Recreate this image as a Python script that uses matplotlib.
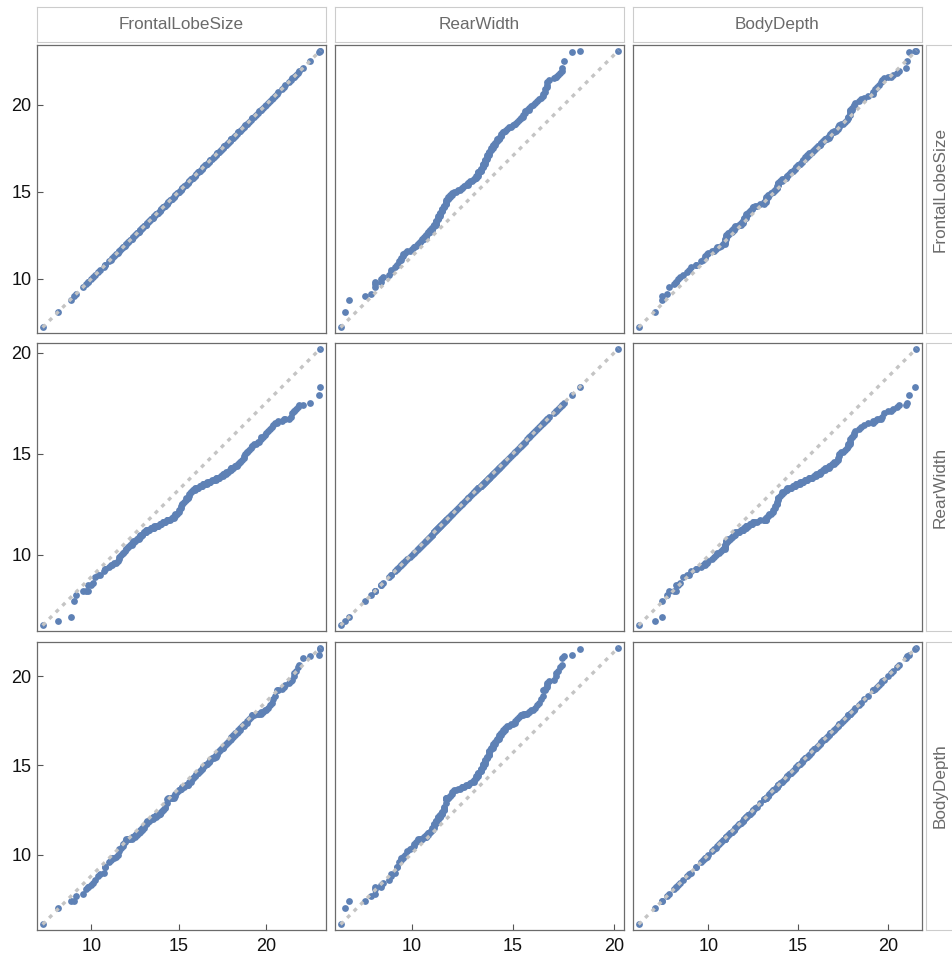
import matplotlib
matplotlib.use("Agg")
import matplotlib.pyplot as plt

plt.rcParams['font.family'] = ['Liberation Sans', 'DejaVu Sans']

names = ["FrontalLobeSize", "RearWidth", "BodyDepth"]

# sorted sample values (quantiles)
frontal = [
    7.2, 8.1, 8.8, 9.0, 9.1, 9.5, 9.7, 9.8, 9.8, 10.0,
    10.1, 10.2, 10.4, 10.5, 10.7, 10.8, 10.8, 11.0, 11.1, 11.2,
    11.3, 11.4, 11.5, 11.6, 11.6, 11.7, 11.8, 11.8, 11.9, 12.0,
    12.0, 12.1, 12.1, 12.2, 12.3, 12.3, 12.4, 12.4, 12.5, 12.5,
    12.6, 12.6, 12.7, 12.7, 12.8, 12.8, 12.8, 12.9, 12.9, 12.9,
    13.0, 13.0, 13.1, 13.1, 13.1, 13.2, 13.2, 13.3, 13.3, 13.4,
    13.4, 13.5, 13.5, 13.6, 13.6, 13.7, 13.7, 13.8, 13.8, 13.9,
    13.9, 14.0, 14.0, 14.1, 14.1, 14.2, 14.2, 14.3, 14.3, 14.4,
    14.4, 14.5, 14.6, 14.6, 14.7, 14.7, 14.8, 14.8, 14.9, 15.0,
    15.0, 15.1, 15.1, 15.2, 15.2, 15.3, 15.4, 15.4, 15.5, 15.5,
    15.6, 15.6, 15.7, 15.7, 15.8, 15.8, 15.9, 15.9, 16.0, 16.1,
    16.1, 16.2, 16.2, 16.3, 16.3, 16.4, 16.4, 16.5, 16.5, 16.6,
    16.6, 16.7, 16.7, 16.8, 16.8, 16.9, 17.0, 17.0, 17.1, 17.1,
    17.2, 17.2, 17.3, 17.3, 17.4, 17.4, 17.5, 17.5, 17.6, 17.6,
    17.7, 17.7, 17.8, 17.8, 17.9, 17.9, 18.0, 18.0, 18.0, 18.1,
    18.1, 18.2, 18.2, 18.3, 18.4, 18.4, 18.5, 18.5, 18.6, 18.7,
    18.7, 18.8, 18.9, 18.9, 19.0, 19.1, 19.2, 19.2, 19.3, 19.4,
    19.5, 19.6, 19.7, 19.7, 19.8, 19.9, 20.0, 20.1, 20.2, 20.3,
    20.4, 20.5, 20.6, 20.7, 20.9, 21.0, 21.1, 21.3, 21.4, 21.5,
    21.6, 21.6, 21.7, 21.8, 21.9, 22.1, 22.5, 23.0, 23.1, 23.1,
]

rear = [
    6.5, 6.7, 6.9, 7.7, 8.0, 8.2, 8.2, 8.2, 8.5, 8.5,
    8.6, 8.9, 9.0, 9.0, 9.2, 9.3, 9.3, 9.4, 9.5, 9.5,
    9.6, 9.6, 9.7, 9.8, 9.9, 10.0, 10.1, 10.1, 10.2, 10.3,
    10.3, 10.4, 10.4, 10.5, 10.5, 10.6, 10.6, 10.7, 10.7, 10.7,
    10.8, 10.8, 10.8, 10.9, 10.9, 10.9, 11.0, 11.0, 11.0, 11.0,
    11.1, 11.1, 11.1, 11.1, 11.2, 11.2, 11.2, 11.2, 11.2, 11.3,
    11.3, 11.3, 11.3, 11.3, 11.4, 11.4, 11.4, 11.4, 11.4, 11.5,
    11.5, 11.5, 11.5, 11.6, 11.6, 11.6, 11.6, 11.7, 11.7, 11.7,
    11.7, 11.7, 11.8, 11.8, 11.8, 11.9, 11.9, 12.0, 12.0, 12.1,
    12.2, 12.3, 12.4, 12.5, 12.5, 12.6, 12.7, 12.8, 12.8, 12.8,
    12.9, 13.0, 13.1, 13.1, 13.2, 13.2, 13.2, 13.3, 13.3, 13.3,
    13.3, 13.4, 13.4, 13.4, 13.4, 13.5, 13.5, 13.5, 13.5, 13.5,
    13.6, 13.6, 13.6, 13.6, 13.6, 13.7, 13.7, 13.7, 13.7, 13.8,
    13.8, 13.8, 13.8, 13.8, 13.9, 13.9, 13.9, 14.0, 14.0, 14.0,
    14.0, 14.1, 14.1, 14.1, 14.2, 14.2, 14.2, 14.3, 14.3, 14.3,
    14.3, 14.4, 14.4, 14.4, 14.5, 14.5, 14.6, 14.6, 14.7, 14.8,
    14.9, 15.0, 15.1, 15.1, 15.2, 15.3, 15.4, 15.4, 15.5, 15.5,
    15.6, 15.6, 15.7, 15.8, 15.8, 15.9, 16.0, 16.1, 16.2, 16.3,
    16.4, 16.5, 16.5, 16.6, 16.6, 16.7, 16.7, 16.7, 16.8, 17.0,
    17.1, 17.1, 17.2, 17.3, 17.4, 17.4, 17.5, 17.9, 18.3, 20.2,
]

body = [
    6.1, 7.0, 7.4, 7.4, 7.7, 7.8, 8.1, 8.2, 8.2, 8.3,
    8.4, 8.6, 8.8, 8.9, 9.0, 9.3, 9.3, 9.6, 9.7, 9.8,
    9.8, 9.9, 10.0, 10.2, 10.3, 10.4, 10.5, 10.6, 10.7, 10.8,
    10.9, 10.9, 10.9, 10.9, 10.9, 11.0, 11.0, 11.0, 11.0, 11.1,
    11.1, 11.2, 11.2, 11.3, 11.3, 11.3, 11.4, 11.4, 11.4, 11.5,
    11.5, 11.6, 11.7, 11.7, 11.8, 11.8, 11.9, 11.9, 11.9, 12.0,
    12.0, 12.0, 12.1, 12.1, 12.1, 12.1, 12.2, 12.2, 12.2, 12.3,
    12.3, 12.4, 12.4, 12.5, 12.5, 12.6, 12.7, 12.9, 13.1, 13.1,
    13.2, 13.2, 13.2, 13.2, 13.2, 13.3, 13.3, 13.4, 13.5, 13.6,
    13.6, 13.7, 13.7, 13.8, 13.8, 13.8, 13.9, 13.9, 13.9, 13.9,
    14.0, 14.1, 14.1, 14.2, 14.3, 14.3, 14.4, 14.4, 14.5, 14.6,
    14.6, 14.7, 14.7, 14.8, 14.8, 14.9, 14.9, 15.0, 15.0, 15.1,
    15.1, 15.2, 15.2, 15.3, 15.3, 15.4, 15.4, 15.5, 15.5, 15.6,
    15.6, 15.7, 15.8, 15.8, 15.9, 15.9, 16.0, 16.0, 16.1, 16.1,
    16.2, 16.2, 16.3, 16.3, 16.4, 16.4, 16.5, 16.5, 16.6, 16.6,
    16.7, 16.7, 16.8, 16.8, 16.9, 17.0, 17.0, 17.1, 17.2, 17.2,
    17.3, 17.3, 17.4, 17.5, 17.6, 17.7, 17.8, 17.8, 17.8, 17.9,
    17.9, 17.9, 17.9, 18.0, 18.0, 18.1, 18.1, 18.2, 18.4, 18.5,
    18.7, 18.9, 19.2, 19.2, 19.3, 19.4, 19.5, 19.6, 19.7, 19.8,
    20.0, 20.2, 20.3, 20.5, 20.6, 21.0, 21.1, 21.2, 21.5, 21.6,
]

ticks = [10, 15, 20]
variables = [frontal, rear, body]

W, H = 952, 960
fig = plt.figure(figsize=(W / 100, H / 100), dpi=100)

col_x = [37, 335, 633]
row_y = [45, 343, 642]
pw, ph = 289, 288


def box(x, y, w, h):
    return [x / W, 1 - (y + h) / H, w / W, h / H]


def padded(v):
    r = max(v) - min(v)
    return min(v) - 0.02 * r, max(v) + 0.02 * r


for i in range(3):
    for j in range(3):
        ax = fig.add_axes(box(col_x[j], row_y[i], pw, ph))
        xs = variables[j]
        ys = variables[i]
        ax.scatter(xs, ys, s=24, color='#5e81b5', linewidths=0, zorder=2)
        ax.plot([min(xs), max(xs)], [min(ys), max(ys)], color='#c4c4c4',
                lw=2.4, ls=(0, (1.2, 1.6)), zorder=3)
        ax.set_xlim(*padded(xs))
        ax.set_ylim(*padded(ys))
        ax.set_xticks(ticks)
        ax.set_yticks(ticks)
        for s in ax.spines.values():
            s.set_color('#6b6b6b')
            s.set_linewidth(0.9)
        ax.tick_params(direction='in', length=4, width=0.8, color='#555555',
                       labelsize=13, labelcolor='#111111')
        ax.tick_params(axis='x', pad=6)
        ax.tick_params(axis='y', pad=4)
        if j != 0:
            ax.tick_params(left=False, labelleft=False)
        if i != 2:
            ax.tick_params(bottom=False, labelbottom=False)

# strip labels: top for columns, right for rows
for j in range(3):
    sa = fig.add_axes(box(col_x[j], 7, pw, 35))
    sa.set_xticks([])
    sa.set_yticks([])
    for s in sa.spines.values():
        s.set_color('#cccccc')
        s.set_linewidth(0.8)
    sa.text(0.5, 0.5, names[j], ha='center', va='center', fontsize=12.3,
            color='#6a6a6a', transform=sa.transAxes)

for i in range(3):
    sa = fig.add_axes(box(926, row_y[i], 30, ph))
    sa.set_xticks([])
    sa.set_yticks([])
    for s in sa.spines.values():
        s.set_color('#cccccc')
        s.set_linewidth(0.8)
    sa.text(0.47, 0.5, names[i], ha='center', va='center', fontsize=12.3,
            color='#6a6a6a', rotation=90, transform=sa.transAxes)

fig.savefig("out.png", dpi=100)
